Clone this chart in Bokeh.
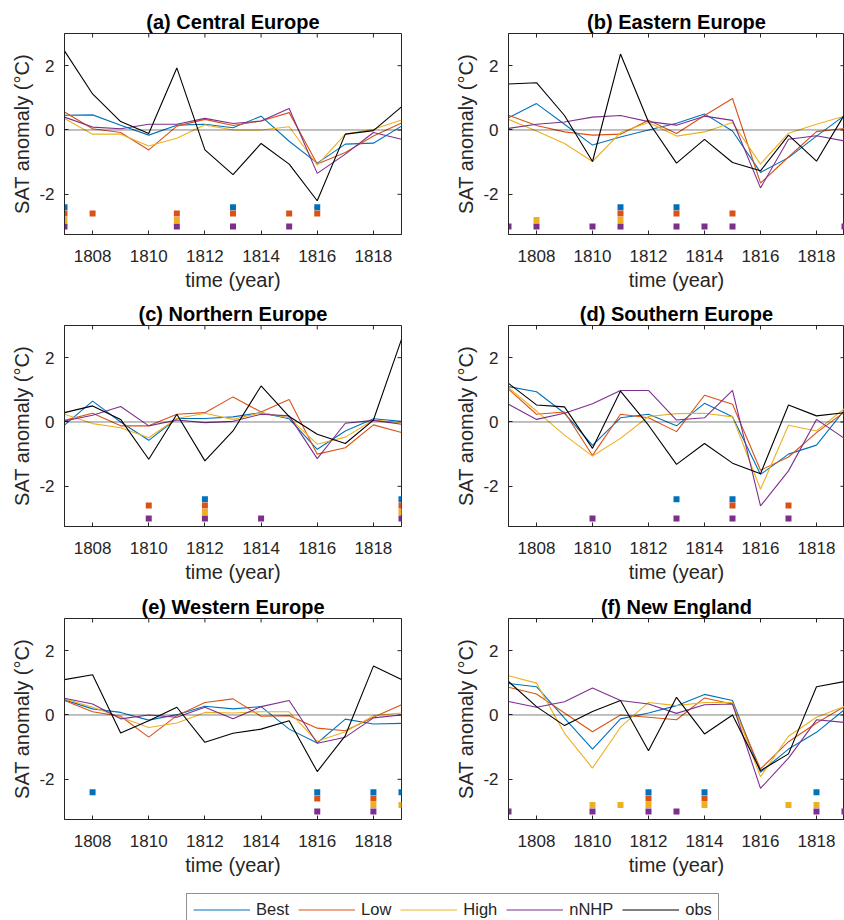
from bokeh.plotting import figure
from bokeh.models import Span, Legend, LegendItem, Range1d, FixedTicker
from bokeh.layouts import column, row
from bokeh.embed import file_html
from bokeh.resources import INLINE

years = [1807, 1808, 1809, 1810, 1811, 1812, 1813, 1814, 1815, 1816, 1817, 1818, 1819]
x_ticks = [1808, 1810, 1812, 1814, 1816, 1818]
y_ticks = [-2, 0, 2]
y_tick_labels = {-2: "-2", 0: "0", 2: "2"}
series = ["Best", "Low", "High", "nNHP", "obs"]
colors = {"Best": "#0072BD", "Low": "#D95319", "High": "#EDB120",
          "nNHP": "#7E2F8E", "obs": "#000000"}
# y levels of the significance markers for each experiment
marker_level = {"Best": -2.4, "Low": -2.6, "High": -2.8, "nNHP": -3.0}

# (a) Central Europe
ce_best = [0.46, 0.47, 0.15, -0.16, 0.15, 0.18, 0.07, 0.43, -0.35, -1.03, -0.44, -0.41, 0.12]
ce_low = [0.56, 0.04, -0.08, -0.62, 0.12, 0.33, 0.14, 0.28, 0.54, -1.06, -0.70, -0.19, 0.22]
ce_high = [0.36, -0.13, -0.13, -0.50, -0.26, 0.16, 0.00, 0.00, 0.10, -1.09, -0.13, 0.02, 0.31]
ce_nnhp = [0.40, 0.09, 0.04, 0.18, 0.18, 0.36, 0.20, 0.28, 0.67, -1.35, -0.75, -0.08, -0.29]
ce_obs = [2.46, 1.12, 0.26, -0.11, 1.93, -0.62, -1.39, -0.42, -1.06, -2.20, -0.13, -0.02, 0.72]
ce_sig = {"Best": [1807, 1813, 1816],
          "Low": [1807, 1808, 1811, 1813, 1815, 1816],
          "High": [1807, 1811],
          "nNHP": [1807, 1811, 1813, 1815]}

# (b) Eastern Europe
ee_best = [0.38, 0.82, 0.18, -0.47, -0.22, 0.00, 0.21, 0.50, -0.03, -1.32, -0.86, -0.19, 0.45]
ee_low = [0.46, 0.14, -0.06, -0.16, -0.13, 0.30, -0.11, 0.45, 0.98, -1.65, -0.84, -0.05, 0.05]
ee_high = [0.33, -0.03, -0.42, -0.98, -0.08, 0.23, -0.19, -0.06, 0.23, -1.06, -0.10, 0.18, 0.43]
ee_nnhp = [0.05, 0.18, 0.25, 0.40, 0.45, 0.26, 0.15, 0.43, 0.30, -1.80, -0.29, -0.18, -0.34]
ee_obs = [1.43, 1.47, 0.45, -0.98, 2.36, 0.25, -1.03, -0.29, -1.01, -1.27, -0.16, -0.97, 0.48]
ee_sig = {"Best": [1811, 1813],
          "Low": [1811, 1813, 1815],
          "High": [1808, 1811],
          "nNHP": [1807, 1808, 1810, 1811, 1813, 1814, 1815, 1819]}

# (c) Northern Europe
ne_best = [-0.10, 0.65, 0.00, -0.57, 0.11, 0.11, 0.16, 0.29, 0.10, -0.85, -0.28, 0.10, 0.02]
ne_low = [0.05, 0.27, -0.12, -0.12, 0.24, 0.29, 0.78, 0.31, 0.70, -1.00, -0.80, -0.09, -0.33]
ne_high = [0.24, -0.05, -0.18, -0.49, 0.11, 0.27, 0.08, 0.29, 0.13, -0.69, -0.47, 0.06, -0.02]
ne_nnhp = [0.03, 0.21, 0.48, -0.12, 0.06, -0.02, 0.02, 0.24, 0.19, -1.14, -0.04, 0.05, -0.07]
ne_obs = [0.29, 0.50, 0.08, -1.16, 0.24, -1.21, -0.28, 1.12, 0.17, -0.38, -0.67, 0.06, 2.57]
ne_sig = {"Best": [1812, 1819],
          "Low": [1810, 1812, 1819],
          "High": [1812, 1819],
          "nNHP": [1810, 1812, 1814, 1819]}

# (d) Southern Europe
se_best = [1.10, 0.94, 0.27, -0.73, 0.13, 0.24, -0.12, 0.58, 0.16, -1.63, -1.00, -0.72, 0.37]
se_low = [1.02, 0.24, 0.31, -1.04, 0.24, 0.13, -0.30, 0.83, 0.55, -1.50, -1.09, -0.33, 0.31]
se_high = [1.07, 0.34, -0.41, -1.06, -0.51, 0.17, 0.26, 0.27, 0.16, -2.09, -0.10, -0.28, 0.42]
se_nnhp = [0.55, 0.08, 0.27, 0.57, 0.98, 0.98, 0.06, 0.13, 0.98, -2.61, -1.52, 0.08, -0.51]
se_obs = [1.20, 0.53, 0.47, -0.82, 0.96, -0.10, -1.32, -0.67, -1.28, -1.61, 0.53, 0.19, 0.29]
se_sig = {"Best": [1813, 1815],
          "Low": [1815, 1817],
          "High": [],
          "nNHP": [1810, 1813, 1815, 1817]}

# (e) Western Europe
we_best = [0.47, 0.19, 0.08, -0.16, 0.01, 0.27, 0.19, 0.26, -0.44, -0.87, -0.13, -0.28, -0.26]
we_low = [0.45, 0.10, -0.04, -0.69, -0.02, 0.39, 0.50, -0.04, -0.02, -0.41, -0.49, -0.07, 0.32]
we_high = [0.50, 0.24, -0.07, -0.39, -0.25, 0.08, 0.06, 0.10, 0.10, -0.82, -0.52, -0.02, 0.06]
we_nnhp = [0.52, 0.34, -0.12, 0.00, -0.07, 0.24, -0.12, 0.26, 0.45, -0.88, -0.69, -0.09, 0.00]
we_obs = [1.10, 1.25, -0.56, -0.18, 0.24, -0.85, -0.57, -0.44, -0.18, -1.76, -0.64, 1.52, 1.10]
we_sig = {"Best": [1808, 1816, 1818, 1819],
          "Low": [1816, 1818],
          "High": [1818, 1819],
          "nNHP": [1816, 1818]}

# (f) New England
ng_best = [0.98, 0.88, -0.10, -1.06, -0.12, 0.06, 0.29, 0.64, 0.45, -1.78, -1.06, -0.54, 0.17]
ng_low = [0.86, 0.65, 0.06, -0.52, 0.00, -0.07, -0.15, 0.53, 0.34, -1.68, -0.83, -0.25, 0.26]
ng_high = [1.22, 0.99, -0.57, -1.65, -0.38, 0.39, 0.29, 0.39, 0.39, -1.92, -0.66, -0.07, 0.27]
ng_nnhp = [0.42, 0.24, 0.41, 0.84, 0.45, 0.34, 0.05, 0.32, 0.34, -2.28, -1.34, -0.15, -0.23]
ng_obs = [1.04, 0.26, -0.33, 0.11, 0.45, -1.11, 0.55, -0.59, 0.00, -1.73, -1.21, 0.88, 1.04]
ng_sig = {"Best": [1812, 1814, 1818],
          "Low": [1812, 1814],
          "High": [1810, 1811, 1812, 1814, 1817, 1818],
          "nNHP": [1807, 1810, 1812, 1813, 1818, 1819]}

panels = [
    ("(a) Central Europe", [ce_best, ce_low, ce_high, ce_nnhp, ce_obs], ce_sig),
    ("(b) Eastern Europe", [ee_best, ee_low, ee_high, ee_nnhp, ee_obs], ee_sig),
    ("(c) Northern Europe", [ne_best, ne_low, ne_high, ne_nnhp, ne_obs], ne_sig),
    ("(d) Southern Europe", [se_best, se_low, se_high, se_nnhp, se_obs], se_sig),
    ("(e) Western Europe", [we_best, we_low, we_high, we_nnhp, we_obs], we_sig),
    ("(f) New England", [ng_best, ng_low, ng_high, ng_nnhp, ng_obs], ng_sig),
]

FONT = "Liberation Sans"
AX = "#262626"
X0, X1 = 1807, 1819
Y0, Y1 = -3.25, 3
FRAME_H = 201
TICK = 4  # tick length in px


def make_panel(idx, title, vals, sig):
    left = idx % 2 == 0
    rown = idx // 2
    fw = 337 if left else 336
    top = 32 if rown == 1 else 33
    bottom = 59 if rown == 1 else 58
    p = figure(frame_width=fw, frame_height=FRAME_H,
               min_border_left=64 if left else 86,
               min_border_right=21 if left else 0,
               min_border_top=top, min_border_bottom=bottom,
               x_range=Range1d(X0, X1), y_range=Range1d(Y0, Y1),
               output_backend="svg", toolbar_location=None, title=title,
               x_axis_label="time (year)", y_axis_label="SAT anomaly (°C)")
    p.title.text_font = FONT
    p.title.text_font_size = "20px"
    p.title.text_font_style = "bold"
    p.title.text_color = "black"
    p.title.align = "center"
    p.title.standoff = 2
    p.grid.visible = False
    p.outline_line_color = AX
    p.outline_line_alpha = 1.0
    p.background_fill_color = "white"
    p.border_fill_color = "white"

    p.xaxis.ticker = FixedTicker(ticks=x_ticks)
    p.yaxis.ticker = FixedTicker(ticks=y_ticks)
    p.yaxis.major_label_overrides = y_tick_labels
    for ax in (p.xaxis[0], p.yaxis[0]):
        ax.axis_line_color = AX
        ax.major_tick_line_color = AX
        ax.major_tick_in = TICK
        ax.major_tick_out = 0
        ax.minor_tick_line_color = None
        ax.major_label_text_font = FONT
        ax.major_label_text_font_size = "17px"
        ax.major_label_text_color = AX
        ax.axis_label_text_font = FONT
        ax.axis_label_text_font_size = "20px"
        ax.axis_label_text_font_style = "normal"
        ax.axis_label_text_color = AX
    p.xaxis.major_label_standoff = 15
    p.xaxis.axis_label_standoff = 4
    p.yaxis.major_label_standoff = 10
    p.yaxis.axis_label_standoff = 3

    # inward ticks on the top and right box edges (MATLAB "box on")
    dy = TICK * (Y1 - Y0) / FRAME_H
    dx = TICK * (X1 - X0) / fw
    p.segment(x0=x_ticks, y0=[Y1] * len(x_ticks), x1=x_ticks,
              y1=[Y1 - dy] * len(x_ticks), line_color=AX, line_width=1)
    p.segment(x0=[X1] * len(y_ticks), y0=y_ticks, x1=[X1 - dx] * len(y_ticks),
              y1=y_ticks, line_color=AX, line_width=1)

    p.add_layout(Span(location=0, dimension="width", line_color="black",
                      line_dash="1 1", line_width=1))

    for name, v in zip(series, vals):
        p.line(years, v, line_color=colors[name], line_width=1.1)

    for name in ["Best", "Low", "High", "nNHP"]:
        xs = sig[name]
        if xs:
            p.scatter(xs, [marker_level[name]] * len(xs), marker="square",
                      size=6, fill_color=colors[name], line_color=None)
    return p


figs = [make_panel(i, t, v, s) for i, (t, v, s) in enumerate(panels)]

# legend strip: proxy lines use panel (a) data but lie outside this strip's range
lp = figure(width=844, height=44, x_range=Range1d(0, 1), y_range=Range1d(0, 1),
            min_border=0, output_backend="svg", toolbar_location=None,
            x_axis_type=None, y_axis_type=None)
lp.outline_line_color = None
lp.grid.visible = False
items = []
for name, v in zip(series, panels[0][1]):
    r = lp.line(years, v, line_color=colors[name], line_width=1.2)
    items.append(LegendItem(label=name, renderers=[r]))
leg = Legend(items=items, orientation="horizontal", location=(186, -4),
             glyph_width=57, glyph_height=19, label_height=19,
             label_standoff=6, spacing=9, padding=6, margin=0,
             label_text_font=FONT, label_text_font_size="16.5px",
             label_text_color=AX, border_line_color=AX, border_line_width=1,
             background_fill_color="white", background_fill_alpha=1.0)
lp.add_layout(leg)

layout = column(row(figs[0], figs[1]), row(figs[2], figs[3]),
                row(figs[4], figs[5]), lp)

open("out.html", "w").write(file_html(layout, INLINE))
